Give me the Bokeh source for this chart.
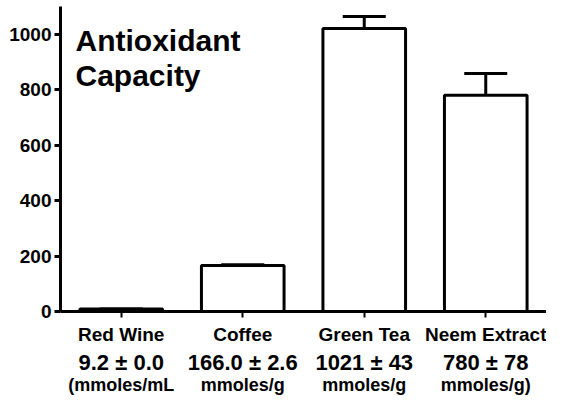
from bokeh.plotting import figure
from bokeh.models import (FactorRange, Range1d, FixedTicker, Whisker, CategoricalAxis,
                          TeeHead, ColumnDataSource, Label, CustomJSTickFormatter)
from bokeh.embed import file_html
from bokeh.resources import INLINE

categories = ["Red Wine", "Coffee", "Green Tea", "Neem Extract"]
values = [9.2, 166.0, 1021.0, 780.0]
errors = [0.0, 2.6, 43.0, 78.0]
value_labels = ["9.2 \u00b1 0.0", "166.0 \u00b1 2.6", "1021 \u00b1 43", "780 \u00b1 78"]
unit_labels = ["(mmoles/mL", "mmoles/g", "mmoles/g", "mmoles/g)"]
y_ticks = [0, 200, 400, 600, 800, 1000]
title_lines = ["Antioxidant", "Capacity"]

FONT = "Liberation Sans"

p = figure(width=546, height=397, output_backend="svg", toolbar_location=None,
           x_range=FactorRange(*categories, range_padding=0),
           y_range=Range1d(0, 1100),
           min_border_left=60, min_border_right=0, min_border_top=6, min_border_bottom=0)
p.outline_line_color = None
p.xgrid.grid_line_color = None
p.ygrid.grid_line_color = None
p.background_fill_color = "white"
p.border_fill_color = "white"

tops = [v + e for v, e in zip(values, errors)]
src = ColumnDataSource(dict(cat=categories, val=values, top=tops))

p.vbar(x="cat", top="val", bottom=0, width=0.68, source=src,
       fill_color="white", line_color="black", line_width=3)

w = Whisker(base="cat", lower="val", upper="top", source=src, dimension="height",
            line_color="black", line_width=3, lower_head=None,
            upper_head=TeeHead(size=43, line_color="black", line_width=3))
p.add_layout(w)

# y axis
ya = p.yaxis[0]
ya.ticker = FixedTicker(ticks=y_ticks)
ya.axis_line_width = 3
ya.major_tick_line_width = 3
ya.major_tick_out = 6
ya.major_tick_in = 0
ya.minor_tick_line_color = None
ya.major_label_standoff = 3
ya.major_label_text_font = FONT
ya.major_label_text_font_style = "bold"
ya.major_label_text_font_size = "19px"
ya.major_label_text_color = "black"

# main x axis (category names)
xa = p.xaxis[0]
xa.axis_line_width = 3
xa.major_tick_line_width = 2
xa.major_tick_out = 6
xa.major_tick_in = 0
xa.major_label_standoff = 6
xa.major_label_text_font = FONT
xa.major_label_text_font_style = "bold"
xa.major_label_text_font_size = "19px"
xa.major_label_text_color = "black"

def extra_axis(labels, size, standoff):
    fmt = CustomJSTickFormatter(args=dict(cats=categories, labels=labels),
                                code="return labels[cats.indexOf(tick)]")
    ax = CategoricalAxis(formatter=fmt, axis_line_color=None, major_tick_line_color=None,
                         minor_tick_line_color=None, major_tick_out=0, major_tick_in=0,
                         major_label_standoff=standoff,
                         major_label_text_font=FONT, major_label_text_font_style="bold",
                         major_label_text_font_size=size, major_label_text_color="black")
    p.add_layout(ax, "below")
    return ax

extra_axis(value_labels, "22px", 2)
extra_axis(unit_labels, "18px", -3)

for i, line in enumerate(title_lines):
    p.add_layout(Label(x=0, y=[977, 851][i], x_offset=15, text=line,
                       text_font=FONT, text_font_style="bold", text_font_size="30px",
                       text_color="black", text_baseline="alphabetic"))

open("out.html", "w").write(file_html(p, INLINE))
